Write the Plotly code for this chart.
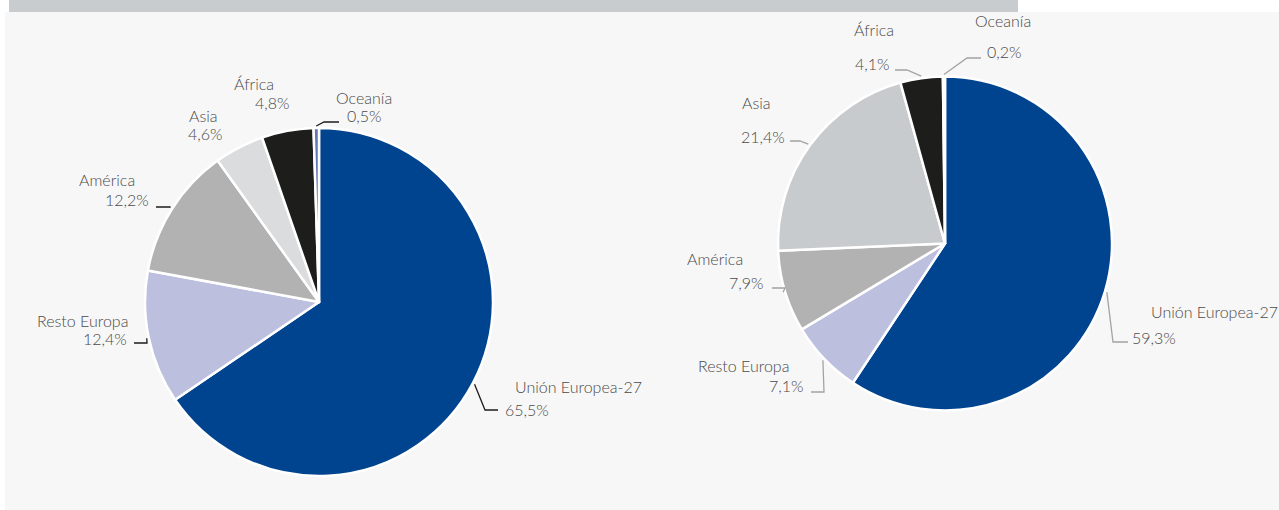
import math
import plotly.graph_objects as go

W, H = 1279, 510

# Regions and shares (%) for the two pies
regions = ["Unión Europea-27", "Resto Europa", "América", "Asia", "África", "Oceanía"]
share_left = [65.5, 12.4, 12.2, 4.6, 4.8, 0.5]
share_right = [59.3, 7.1, 7.9, 21.4, 4.1, 0.2]
share_left_txt = ["65,5%", "12,4%", "12,2%", "4,6%", "4,8%", "0,5%"]
share_right_txt = ["59,3%", "7,1%", "7,9%", "21,4%", "4,1%", "0,2%"]

colors_left = ["#00448f", "#bcc0de", "#b2b2b2", "#dbdcdd", "#1d1d1b", "#6276bb"]
colors_right = ["#00448f", "#bcc0de", "#b2b2b2", "#c8cbcd", "#1d1d1b", "#6276bb"]

# Pie geometry in pixels: centre x, centre y, radius
pie_left = (319, 302, 174)
pie_right = (945, 243.5, 167)

# Label placement per slice: (name x, name y, name anchor, value x, value y, value anchor,
#                              leader knee, leader end or None)
labels_left = [
    (513, 386, "left", 503, 409, "left", (485, 410), (498, 410)),
    (130, 320, "right", 129, 338, "right", (147, 343), (134, 343)),
    (137, 179, "right", 151, 200, "right", (170, 207), (156, 207)),
    (187, 116, "left", 186, 134, "left", None, None),
    (232, 84, "left", 253, 103, "left", None, None),
    (334, 97, "left", 345, 116, "left", (324, 122), (339, 122)),
]
labels_right = [
    (1149, 311, "left", 1130, 337, "left", (1113, 342), (1128, 342)),
    (791, 365, "right", 806, 385, "right", (824, 392), (811, 392)),
    (745, 258, "right", 766, 282, "right", (785, 288), (772, 288)),
    (740, 103, "left", 739, 137, "left", (800, 141), (790, 141)),
    (852, 29, "left", 853, 63, "left", (907, 70), (895, 70)),
    (973, 21, "left", 985, 52, "left", (967, 58), (981, 58)),
]

FONT = dict(family="Lato Light, Lato, Open Sans, sans-serif", size=16, color="#4a4a49", weight=300)


def px(x):
    return x / W


def py(y):
    return 1 - y / H


def domain(pie):
    cx, cy, r = pie
    return dict(x=[px(cx - r), px(cx + r)], y=[py(cy + r), py(cy - r)])


fig = go.Figure()
for vals, cols, pie in ((share_left, colors_left, pie_left), (share_right, colors_right, pie_right)):
    fig.add_trace(go.Pie(
        labels=regions, values=vals, sort=False, direction="clockwise", rotation=0,
        marker=dict(colors=cols, line=dict(color="white", width=2.5)),
        textinfo="none", hoverinfo="label+percent", domain=domain(pie), showlegend=False,
    ))

shapes = [
    # light panel and header strip
    dict(type="rect", xref="paper", yref="paper", x0=px(5), x1=1, y0=0, y1=py(12),
         fillcolor="#f7f7f7", line_width=0, layer="below"),
    dict(type="rect", xref="paper", yref="paper", x0=px(9), x1=px(1018), y0=py(12), y1=1,
         fillcolor="#c8ccce", line_width=0, layer="below"),
]
annotations = []


def add_labels(vals, texts, labels, pie, line_color):
    cx, cy, r = pie
    total = sum(vals)
    cum = 0.0
    for v, name, txt, lab in zip(vals, regions, texts, labels):
        mid = (cum + v / 2) / total * 2 * math.pi
        cum += v
        nx, ny, na, vx, vy, va, knee, end = lab
        annotations.append(dict(x=px(nx), y=py(ny), xref="paper", yref="paper", text=name,
                                showarrow=False, xanchor=na, yanchor="middle", font=FONT))
        annotations.append(dict(x=px(vx), y=py(vy), xref="paper", yref="paper", text=txt,
                                showarrow=False, xanchor=va, yanchor="middle", font=FONT))
        if knee is not None:
            ex = cx + (r + 2) * math.sin(mid)
            ey = cy - (r + 2) * math.cos(mid)
            path = "M {} {} L {} {} L {} {}".format(px(ex), py(ey), px(knee[0]), py(knee[1]),
                                                    px(end[0]), py(end[1]))
            shapes.append(dict(type="path", xref="paper", yref="paper", path=path,
                               line=dict(color=line_color, width=1.3)))


add_labels(share_left, share_left_txt, labels_left, pie_left, "#1d1d1b")
add_labels(share_right, share_right_txt, labels_right, pie_right, "#a3a3a3")

fig.update_layout(
    width=W, height=H, margin=dict(l=0, r=0, t=0, b=0),
    paper_bgcolor="white", plot_bgcolor="white",
    shapes=shapes, annotations=annotations,
)

fig.write_html("out.html", config={"displayModeBar": False})
